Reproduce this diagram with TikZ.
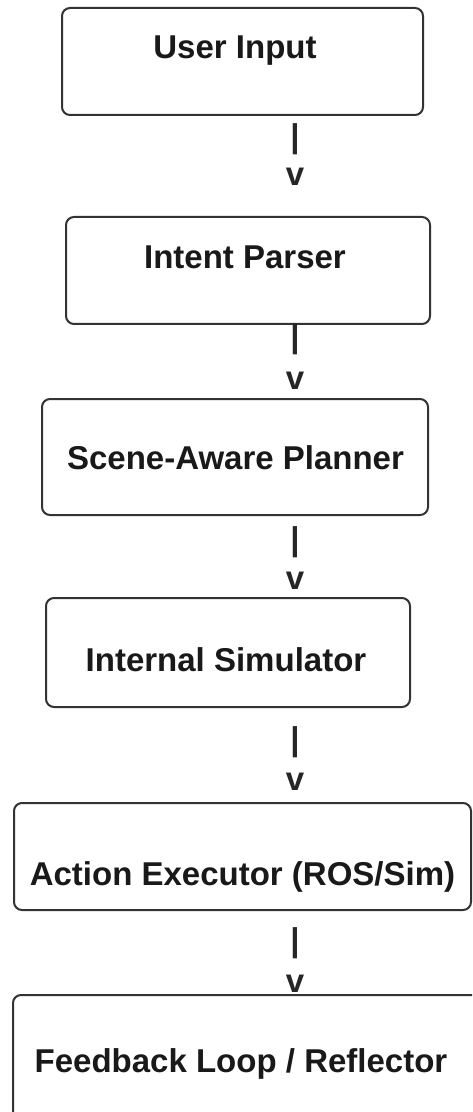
\documentclass[tikz,border=0pt]{standalone}
\usepackage{fontspec}
\setmainfont{Liberation Sans}
\begin{document}
\begin{tikzpicture}[x=0.5pt,y=-0.5pt,
  stagebox/.style={draw=black!80, line width=1pt, rounded corners=4pt, fill=white, inner sep=0pt, outer sep=0pt},
  stagetext/.style={anchor=base, inner sep=0pt, font=\fontsize{16.5pt}{19pt}\selectfont\bfseries, text=black!90},
  glyph/.style={anchor=base, inner sep=0pt, font=\fontsize{16.5pt}{19pt}\selectfont\bfseries, text=black!85}]
\useasboundingbox (0,0) rectangle (472,1112);
\clip (0,0) rectangle (472,1112);
% boxes
\node[stagebox, minimum width=180.5pt, minimum height=53.5pt] (b1) at (242.5,61.5) {};
\node[stagebox, minimum width=182pt, minimum height=53.5pt] (b2) at (248,270.5) {};
\node[stagebox, minimum width=193pt, minimum height=58pt] (b3) at (235,457) {};
\node[stagebox, minimum width=182pt, minimum height=54.5pt] (b4) at (228,652.5) {};
\node[stagebox, minimum width=228.5pt, minimum height=53.5pt] (b5) at (242.5,856.5) {};
\node[stagebox, minimum width=236pt, minimum height=65pt] (b6) at (249,1060) {};
% labels
\node[stagetext] (t1) at (235,59) {User Input};
\node[stagetext] (t2) at (245,269) {Intent Parser};
\node[stagetext] (t3) at (235.5,469) {Scene-Aware Planner};
\node[stagetext] (t4) at (226,671) {Internal Simulator};
\node[stagetext] (t5) at (242.5,885) {Action Executor (ROS/Sim)};
\node[stagetext] (t6) at (241,1072) {Feedback Loop / Reflector};
% text connectors
\node[glyph] (p1) at (295,148) {|};
\node[glyph] (v1) at (295,186) {v};
\node[glyph] (p2) at (295,348) {|};
\node[glyph] (v2) at (295,389) {v};
\node[glyph] (p3) at (295,550) {|};
\node[glyph] (v3) at (295,589) {v};
\node[glyph] (p4) at (295,750) {|};
\node[glyph] (v4) at (295,790) {v};
\node[glyph] (p5) at (295,951) {|};
\node[glyph] (v5) at (295,992) {v};
\end{tikzpicture}
\end{document}
